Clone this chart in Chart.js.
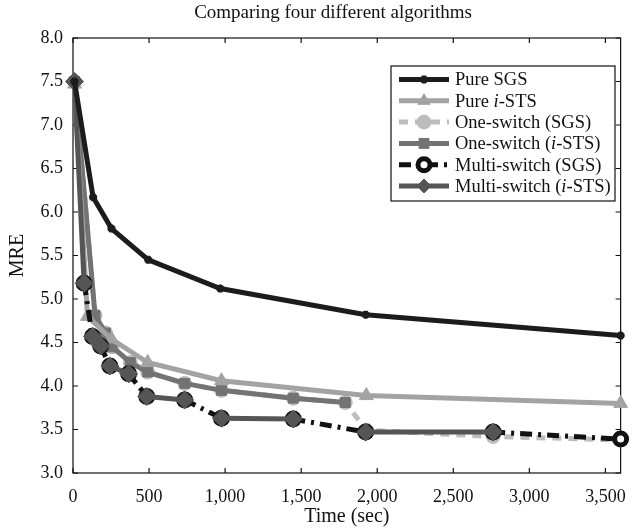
<!DOCTYPE html>
<html>
<head>
<meta charset="utf-8">
<script src="https://cdn.jsdelivr.net/npm/chart.js@4.4.1/dist/chart.umd.min.js"></script>
<style>
  html, body { margin: 0; padding: 0; background: #fff; }
</style>
</head>
<body>
<canvas id="mre-chart" width="639" height="531"></canvas>
<script>
const titleText = 'Comparing four different algorithms';
const xTicks = [0, 500, 1000, 1500, 2000, 2500, 3000, 3500];
const yTicks = [3.0, 3.5, 4.0, 4.5, 5.0, 5.5, 6.0, 6.5, 7.0, 7.5, 8.0];

// time (sec) / MRE per algorithm, null = break in the line
const pureSgsTime = [10, 132, 253, 495, 968, 1924, 3600];
const pureSgsMre  = [7.5, 6.17, 5.81, 5.45, 5.12, 4.82, 4.58];

const pureIstsTime = [10, 95, 253, 491, 976, 1928, 3600];
const pureIstsMre  = [7.47, 4.80, 4.54, 4.27, 4.06, 3.89, 3.80];

const oneSgsTime = [10, 145, 214, 257, 377, 491, 734, 976, 1448, 1790, 1930, 2762, 3600];
const oneSgsMre  = [7.5, 4.81, 4.61, 4.45, 4.27, 4.16, 4.03, 3.95, 3.86, 3.81, 3.49, 3.42, 3.38];

const oneIstsTime = [10, 145, 214, 257, 377, 491, 734, 976, 1448, 1790];
const oneIstsMre  = [7.5, 4.81, 4.61, 4.45, 4.27, 4.16, 4.03, 3.95, 3.86, 3.81];

const multiSgsTime = [73, 128, null, 182, 242, null, 366, 485, null, 734, 976, null, 1448, 1924, null, 2762, 3600];
const multiSgsMre  = [5.18, 4.57, null, 4.46, 4.23, null, 4.14, 3.88, null, 3.84, 3.63, null, 3.62, 3.47, null, 3.47, 3.39];

const multiIstsTime = [10, 73, null, 128, 182, null, 242, 366, null, 485, 734, null, 976, 1448, null, 1924, 2762];
const multiIstsMre  = [7.5, 5.18, null, 4.57, 4.46, null, 4.23, 4.14, null, 3.88, 3.84, null, 3.63, 3.62, null, 3.47, 3.47];

const serif = '"Liberation Serif", "DejaVu Serif", serif';

function toPoints(times, values) {
  return times.map((t, i) => ({ x: t === null ? times[i - 1] : t, y: values[i] }));
}

function series(label, times, values, color, style) {
  return Object.assign({
    label: label,
    data: toPoints(times, values),
    borderColor: color,
    backgroundColor: color,
    pointBorderColor: color,
    pointBackgroundColor: color,
    borderWidth: 5,
    pointBorderWidth: 1,
    tension: 0,
    spanGaps: false,
    clip: false
  }, style);
}

const datasets = [
  series('Pure SGS', pureSgsTime, pureSgsMre, '#1c1c1c',
    { pointStyle: 'star', pointRadius: 4, pointBorderWidth: 3, order: 1 }),
  series('Pure i-STS', pureIstsTime, pureIstsMre, '#a3a3a3',
    { pointStyle: 'triangle', pointRadius: 8, order: 4 }),
  series('One-switch (SGS)', oneSgsTime, oneSgsMre, '#bdbdbd',
    { pointStyle: 'circle', pointRadius: 7, borderDash: [9, 7], order: 6 }),
  series('One-switch (i-STS)', oneIstsTime, oneIstsMre, '#737373',
    { pointStyle: 'rect', pointRadius: 7, order: 5 }),
  series('Multi-switch (SGS)', multiSgsTime, multiSgsMre, '#111111',
    { pointStyle: 'circle', pointRadius: 6, pointBorderWidth: 5, pointBackgroundColor: '#ffffff',
      borderDash: [12, 6, 3, 6], order: 3 }),
  series('Multi-switch (i-STS)', multiIstsTime, multiIstsMre, '#555555',
    { pointStyle: 'rectRot', pointRadius: 9, order: 2 })
];

// frame with inward ticks and the title, like the original figure
const frameTicks = {
  id: 'frameTicks',
  beforeDatasetsDraw(chart) {
    const { ctx, chartArea: a, scales } = chart;
    ctx.save();
    ctx.strokeStyle = '#111';
    ctx.lineWidth = 1.2;
    ctx.strokeRect(a.left, a.top, a.right - a.left, a.bottom - a.top);
    ctx.beginPath();
    xTicks.forEach(v => {
      const px = scales.x.getPixelForValue(v);
      ctx.moveTo(px, a.top); ctx.lineTo(px, a.top + 5);
      ctx.moveTo(px, a.bottom); ctx.lineTo(px, a.bottom - 5);
    });
    yTicks.forEach(v => {
      const py = scales.y.getPixelForValue(v);
      ctx.moveTo(a.left, py); ctx.lineTo(a.left + 5, py);
      ctx.moveTo(a.right, py); ctx.lineTo(a.right - 5, py);
    });
    ctx.stroke();
    ctx.fillStyle = '#111';
    ctx.font = '19px ' + serif;
    ctx.textAlign = 'center';
    ctx.textBaseline = 'middle';
    ctx.fillText(titleText, 333, 13);
    ctx.restore();
  }
};

function drawMarker(ctx, ds, x, y) {
  const opts = {
    pointStyle: ds.pointStyle,
    radius: ds.pointRadius,
    borderWidth: ds.pointBorderWidth,
    rotation: 0
  };
  ctx.save();
  ctx.setLineDash([]);
  ctx.fillStyle = ds.pointBackgroundColor;
  ctx.strokeStyle = ds.pointBorderColor;
  ctx.lineWidth = ds.pointBorderWidth;
  Chart.helpers.drawPoint(ctx, opts, x, y);
  ctx.restore();
}

const boxLegend = {
  id: 'boxLegend',
  afterDatasetsDraw(chart) {
    const ctx = chart.ctx;
    const box = { left: 391, top: 66, right: 615, bottom: 201 };
    ctx.save();
    ctx.fillStyle = '#fff';
    ctx.fillRect(box.left, box.top, box.right - box.left, box.bottom - box.top);
    ctx.strokeStyle = '#111';
    ctx.lineWidth = 1.2;
    ctx.strokeRect(box.left, box.top, box.right - box.left, box.bottom - box.top);
    chart.data.datasets.forEach((ds, i) => {
      const y = 79.5 + i * 21.3;
      ctx.save();
      ctx.strokeStyle = ds.borderColor;
      ctx.lineWidth = ds.borderWidth;
      ctx.setLineDash(ds.borderDash || []);
      ctx.beginPath();
      ctx.moveTo(399, y); ctx.lineTo(449, y);
      ctx.stroke();
      ctx.restore();
      drawMarker(ctx, Object.assign({}, ds, { pointRadius: Math.min(ds.pointRadius, 7) }), 424, y);
      const parts = ds.label.split(/(i)(?=-STS)/);
      let tx = 455;
      ctx.fillStyle = '#111';
      ctx.textBaseline = 'middle';
      parts.forEach((p, k) => {
        const italic = p === 'i' && parts[k + 1] && parts[k + 1].startsWith('-STS');
        ctx.font = (italic ? 'italic ' : '') + '18.5px ' + serif;
        ctx.fillText(p, tx, y + 1);
        tx += ctx.measureText(p).width;
      });
    });
    ctx.restore();
  }
};

new Chart(document.getElementById('mre-chart').getContext('2d'), {
  type: 'line',
  data: { datasets: datasets },
  options: {
    responsive: false,
    animation: false,
    devicePixelRatio: 1,
    layout: { padding: { right: 12, top: 38 } },
    plugins: {
      legend: { display: false },
      tooltip: { enabled: false },
      title: { display: false }
    },
    scales: {
      x: {
        type: 'linear',
        min: 0,
        max: 3600,
        grid: { display: false, drawTicks: false },
        border: { display: false },
        afterBuildTicks: s => { s.ticks = xTicks.map(v => ({ value: v })); },
        afterFit: s => { s.height = 58; },
        ticks: {
          color: '#111',
          padding: 13,
          maxRotation: 0,
          autoSkip: false,
          font: { family: serif, size: 18 },
          callback: v => v.toLocaleString('en-US')
        },
        title: {
          display: true,
          text: 'Time (sec)',
          color: '#111',
          font: { family: serif, size: 20, lineHeight: 1.2 },
          padding: { top: 0, bottom: 2 }
        }
      },
      y: {
        min: 3,
        max: 8,
        grid: { display: false, drawTicks: false },
        border: { display: false },
        afterBuildTicks: s => { s.ticks = yTicks.map(v => ({ value: v })); },
        afterFit: s => { s.width = 73; },
        ticks: {
          color: '#111',
          padding: 10,
          autoSkip: false,
          font: { family: serif, size: 18 },
          callback: v => Number(v).toFixed(1)
        },
        title: {
          display: true,
          text: 'MRE',
          color: '#111',
          font: { family: serif, size: 20, lineHeight: 1.2 },
          padding: { top: 6, bottom: 0 }
        }
      }
    }
  },
  plugins: [frameTicks, boxLegend]
});
</script>
